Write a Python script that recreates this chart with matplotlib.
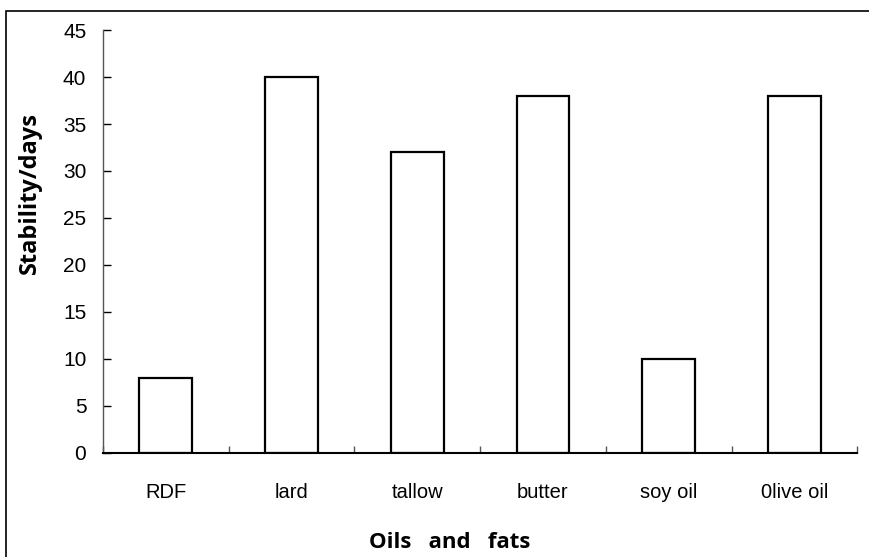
import matplotlib.pyplot as plt
from matplotlib.patches import Rectangle

categories = ["RDF", "lard", "tallow", "butter", "soy oil", "0live oil"]
stability = [8, 40, 32, 38, 10, 38]

plt.rcParams['font.family'] = ['Liberation Sans', 'DejaVu Sans']

fig = plt.figure(figsize=(8.69, 5.57), dpi=100)
ax = fig.add_axes([0.1185, 0.187, 0.868, 0.759])

# outer chart frame
fig.patches.append(Rectangle((0.007, -0.05), 1.1, 1.03, transform=fig.transFigure,
                             fill=False, edgecolor='black', linewidth=1.2))

x = range(len(categories))
ax.bar(x, stability, width=0.42, color='white', edgecolor='black', linewidth=1.6)

ax.set_xlim(-0.5, len(categories) - 0.5)
ax.set_ylim(0, 45)
ax.set_yticks(range(0, 46, 5))
ax.set_xticks(list(x))
ax.set_xticklabels(categories)
ax.set_xticks([i + 0.5 for i in range(-1, len(categories))], minor=True)

ax.tick_params(axis='y', direction='in', length=6, width=1, labelsize=15, pad=12)
ax.tick_params(axis='x', which='major', length=0, labelsize=14.5, pad=22)
ax.tick_params(axis='x', which='minor', direction='in', length=5, width=1, color='#555555')

for s in ['top', 'right']:
    ax.spines[s].set_visible(False)
ax.spines['left'].set_color('#555555')
ax.spines['left'].set_linewidth(1)
ax.spines['bottom'].set_linewidth(1.5)

ax.set_ylabel("Stability/days", fontsize=17, fontweight='bold', family=['Open Sans', 'DejaVu Sans'],
              va='center', ha='center')
ax.yaxis.set_label_coords(-0.097, 0.615)
ax.set_xlabel("Oils   and   fats", fontsize=16, fontweight='bold', family=['Open Sans', 'DejaVu Sans'],
              va='center', ha='center')
ax.xaxis.set_label_coords(0.459, -0.213)

fig.savefig("out.png", dpi=100)
